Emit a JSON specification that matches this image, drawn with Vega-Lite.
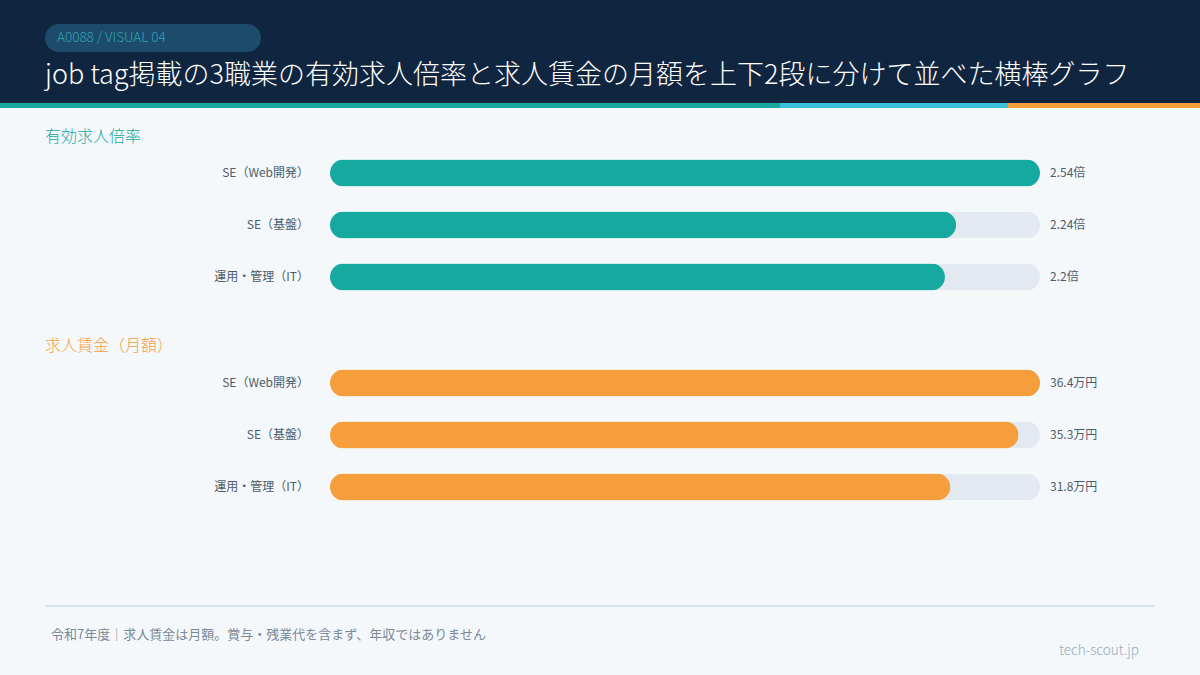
{
  "$schema": "https://vega.github.io/schema/vega-lite/v6.json",
  "description": "job tag: effective job openings ratio and monthly offered wage for three IT occupations, two stacked bar panels.",
  "width": 1200,
  "height": 675,
  "autosize": {"type": "none"},
  "padding": 0,
  "background": "#f4f8fb",
  "config": {
    "view": {"stroke": null},
    "font": "Noto Sans CJK JP",
    "text": {"font": "Noto Sans CJK JP"}
  },
  "datasets": {
    "page": [
      {"part": "header"},
      {"part": "badge", "text": "A0088 / VISUAL 04"},
      {"part": "title", "text": "job tag掲載の3職業の有効求人倍率と求人賃金の月額を上下2段に分けて並べた横棒グラフ"},
      {"part": "rule"},
      {"part": "note", "text": "令和7年度｜求人賃金は月額。賞与・残業代を含まず、年収ではありません"},
      {"part": "credit", "text": "tech-scout.jp"}
    ],
    "stripe": [
      {"bar": "accent", "seg": "accent1", "share": 65},
      {"bar": "accent", "seg": "accent2", "share": 19},
      {"bar": "accent", "seg": "accent3", "share": 16}
    ],
    "openings": [
      {"section": "有効求人倍率", "job": "SE（Web開発）", "value": 2.54, "label": "2.54倍"},
      {"section": "有効求人倍率", "job": "SE（基盤）", "value": 2.24, "label": "2.24倍"},
      {"section": "有効求人倍率", "job": "運用・管理（IT）", "value": 2.2, "label": "2.2倍"}
    ],
    "wages": [
      {"section": "求人賃金（月額）", "job": "SE（Web開発）", "value": 36.4, "label": "36.4万円"},
      {"section": "求人賃金（月額）", "job": "SE（基盤）", "value": 35.3, "label": "35.3万円"},
      {"section": "求人賃金（月額）", "job": "運用・管理（IT）", "value": 31.8, "label": "31.8万円"}
    ]
  },
  "layer": [
    {
      "data": {"name": "page"},
      "transform": [{"filter": "datum.part == 'header'"}],
      "mark": {"type": "rect", "color": "#10253f"},
      "encoding": {
        "y": {"field": "part", "type": "nominal", "axis": null,
              "scale": {"type": "band", "range": [0, 103], "paddingInner": 0, "paddingOuter": 0}}
      }
    },
    {
      "data": {"name": "stripe"},
      "mark": {"type": "bar"},
      "encoding": {
        "x": {"field": "share", "type": "quantitative", "stack": "zero", "axis": null,
              "scale": {"domain": [0, 100], "nice": false}},
        "y": {"field": "bar", "type": "nominal", "axis": null,
              "scale": {"type": "band", "range": [103, 108], "paddingInner": 0, "paddingOuter": 0}},
        "color": {"field": "seg", "type": "nominal", "legend": null,
                  "scale": {"domain": ["accent1", "accent2", "accent3"], "range": ["#17a89e", "#3bbfda", "#f59e3b"]}}
      }
    },
    {
      "data": {"name": "page"},
      "transform": [{"filter": "datum.part == 'badge'"}],
      "encoding": {
        "x": {"field": "part", "type": "nominal", "axis": null,
              "scale": {"type": "band", "range": [45, 261], "paddingInner": 0, "paddingOuter": 0}},
        "y": {"field": "part", "type": "nominal", "axis": null,
              "scale": {"type": "band", "range": [24, 52], "paddingInner": 0, "paddingOuter": 0}}
      },
      "layer": [
        {"mark": {"type": "rect", "color": "#1d4b6c", "cornerRadius": 14}},
        {
          "mark": {"type": "text", "align": "left", "baseline": "middle", "dx": 12,
                   "fontSize": 13.5, "fontWeight": 300, "color": "#2ea4b6",
                   "font": "Noto Sans CJK JP Light, Noto Sans CJK JP"},
          "encoding": {
            "x": {"field": "part", "type": "nominal", "bandPosition": 0},
            "text": {"field": "text"}
          }
        }
      ]
    },
    {
      "data": {"name": "page"},
      "transform": [{"filter": "datum.part == 'title'"}],
      "mark": {"type": "text", "align": "left", "baseline": "middle",
               "fontSize": 27, "fontWeight": 300, "color": "#ffffff",
               "font": "Noto Sans CJK JP Light, Noto Sans CJK JP"},
      "encoding": {
        "x": {"field": "part", "type": "nominal", "bandPosition": 0, "axis": null,
              "scale": {"type": "band", "range": [45, 1155], "paddingInner": 0, "paddingOuter": 0}},
        "y": {"field": "part", "type": "nominal", "axis": null,
              "scale": {"type": "band", "range": [62, 90], "paddingInner": 0, "paddingOuter": 0}},
        "text": {"field": "text"}
      }
    },
    {
      "data": {"name": "openings"},
      "transform": [{"joinaggregate": [{"op": "max", "field": "value", "as": "max"}]}],
      "encoding": {
        "y": {"field": "job", "type": "nominal", "sort": null, "axis": null,
              "scale": {"type": "band", "range": [147, 303], "paddingInner": 0, "paddingOuter": 0}}
      },
      "layer": [
        {
          "mark": {"type": "bar", "size": 27, "cornerRadius": 13.5, "color": "#e2e9f0"},
          "encoding": {
            "x": {"field": "max", "type": "quantitative", "axis": null,
                  "scale": {"range": [330, 1040], "nice": false, "zero": true}}
          }
        },
        {
          "mark": {"type": "bar", "size": 27, "cornerRadius": 13.5, "color": "#15a99f"},
          "encoding": {"x": {"field": "value", "type": "quantitative"}}
        },
        {
          "mark": {"type": "text", "align": "right", "baseline": "middle", "dx": -21,
                   "fontSize": 12, "color": "#4f5c6a"},
          "encoding": {
            "x": {"datum": 0, "type": "quantitative"},
            "text": {"field": "job"}
          }
        },
        {
          "mark": {"type": "text", "align": "left", "baseline": "middle", "dx": 10,
                   "fontSize": 12, "color": "#4f5c6a"},
          "encoding": {
            "x": {"field": "max", "type": "quantitative"},
            "text": {"field": "label"}
          }
        },
        {
          "transform": [{"filter": {"field": "job", "equal": "SE（Web開発）"}}],
          "mark": {"type": "text", "align": "left", "baseline": "middle", "dx": -285, "dy": -36,
                   "fontSize": 16, "fontWeight": 300, "color": "#17a89e",
                   "font": "Noto Sans CJK JP Light, Noto Sans CJK JP"},
          "encoding": {
            "x": {"datum": 0, "type": "quantitative"},
            "text": {"field": "section"}
          }
        }
      ]
    },
    {
      "data": {"name": "wages"},
      "transform": [{"joinaggregate": [{"op": "max", "field": "value", "as": "max"}]}],
      "encoding": {
        "y": {"field": "job", "type": "nominal", "sort": null, "axis": null,
              "scale": {"type": "band", "range": [357, 513], "paddingInner": 0, "paddingOuter": 0}}
      },
      "layer": [
        {
          "mark": {"type": "bar", "size": 27, "cornerRadius": 13.5, "color": "#e2e9f0"},
          "encoding": {
            "x": {"field": "max", "type": "quantitative", "axis": null,
                  "scale": {"range": [330, 1040], "nice": false, "zero": true}}
          }
        },
        {
          "mark": {"type": "bar", "size": 27, "cornerRadius": 13.5, "color": "#f59e3b"},
          "encoding": {"x": {"field": "value", "type": "quantitative"}}
        },
        {
          "mark": {"type": "text", "align": "right", "baseline": "middle", "dx": -21,
                   "fontSize": 12, "color": "#4f5c6a"},
          "encoding": {
            "x": {"datum": 0, "type": "quantitative"},
            "text": {"field": "job"}
          }
        },
        {
          "mark": {"type": "text", "align": "left", "baseline": "middle", "dx": 10,
                   "fontSize": 12, "color": "#4f5c6a"},
          "encoding": {
            "x": {"field": "max", "type": "quantitative"},
            "text": {"field": "label"}
          }
        },
        {
          "transform": [{"filter": {"field": "job", "equal": "SE（Web開発）"}}],
          "mark": {"type": "text", "align": "left", "baseline": "middle", "dx": -285, "dy": -37,
                   "fontSize": 16, "fontWeight": 300, "color": "#f59e3b",
                   "font": "Noto Sans CJK JP Light, Noto Sans CJK JP"},
          "encoding": {
            "x": {"datum": 0, "type": "quantitative"},
            "text": {"field": "section"}
          }
        }
      ]
    },
    {
      "data": {"name": "page"},
      "transform": [{"filter": "datum.part == 'rule'"}],
      "mark": {"type": "rect", "color": "#d6e0e8"},
      "encoding": {
        "x": {"field": "part", "type": "nominal", "axis": null,
              "scale": {"type": "band", "range": [45, 1155], "paddingInner": 0, "paddingOuter": 0}},
        "y": {"field": "part", "type": "nominal", "axis": null,
              "scale": {"type": "band", "range": [605, 607], "paddingInner": 0, "paddingOuter": 0}}
      }
    },
    {
      "data": {"name": "page"},
      "transform": [{"filter": "datum.part == 'note'"}],
      "mark": {"type": "text", "align": "left", "baseline": "middle",
               "fontSize": 13, "color": "#7b8997"},
      "encoding": {
        "x": {"field": "part", "type": "nominal", "bandPosition": 0, "axis": null,
              "scale": {"type": "band", "range": [51, 700], "paddingInner": 0, "paddingOuter": 0}},
        "y": {"field": "part", "type": "nominal", "axis": null,
              "scale": {"type": "band", "range": [628, 642], "paddingInner": 0, "paddingOuter": 0}},
        "text": {"field": "text"}
      }
    },
    {
      "data": {"name": "page"},
      "transform": [{"filter": "datum.part == 'credit'"}],
      "mark": {"type": "text", "align": "right", "baseline": "middle",
               "fontSize": 13.5, "fontWeight": 300, "color": "#93acbe",
               "font": "Noto Sans CJK JP Light, Noto Sans CJK JP"},
      "encoding": {
        "x": {"field": "part", "type": "nominal", "bandPosition": 1, "axis": null,
              "scale": {"type": "band", "range": [1000, 1139], "paddingInner": 0, "paddingOuter": 0}},
        "y": {"field": "part", "type": "nominal", "axis": null,
              "scale": {"type": "band", "range": [644, 658], "paddingInner": 0, "paddingOuter": 0}},
        "text": {"field": "text"}
      }
    }
  ],
  "resolve": {"scale": {"x": "independent", "y": "independent", "color": "independent"}}
}
